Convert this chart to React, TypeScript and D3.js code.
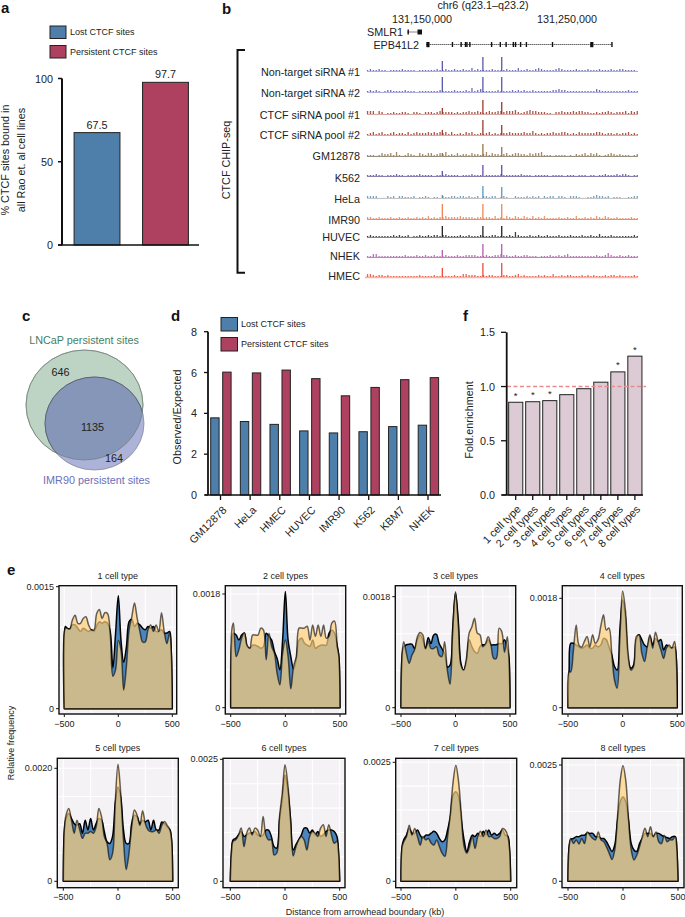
import React from "react";
import * as d3 from "d3";

const FONT = "'Liberation Sans', Arial, sans-serif";
const INK = "#222";
const BLUE = "#4e7fab";
const RED = "#ae4060";

// ---------- panel a ----------
const legendLabels = ["Lost CTCF sites", "Persistent CTCF sites"];
const aValues = [67.5, 97.7];

// ---------- panel b ----------
const trackNames = ["Non-target siRNA #1", "Non-target siRNA #2", "CTCF siRNA pool #1", "CTCF siRNA pool #2", "GM12878", "K562", "HeLa", "IMR90", "HUVEC", "NHEK", "HMEC"];
const trackColors = ["#4a4aa8", "#4a4aa8", "#96281b", "#96281b", "#8f6b3a", "#5a3f9e", "#4a90b8", "#ee7b4a", "#111111", "#b04fa8", "#e8402a"];
const trackBaseColors = ["#a6a6d8", "#a6a6d8", "#d0a098", "#d0a098", "#8c8270", "#7a72a8", "#bdbdbd", "#9a9a9a", "#777777", "#9a8a9a", "#f5b5a5"];
const peakKb = [131164, 131192, 131205];
const trackPeaks = [
  [10, 14, 14], [15, 15, 15], [6, 14, 12], [5, 15, 10], [3, 12, 9], [5, 11, 11], [3, 12, 11], [15, 15, 15], [11, 11, 11], [7, 13, 13], [9, 14, 14],
];
const trackBins = [
  [1,2,1,1,2,1,1,0,1,1,1,1,2,1,1,1,1,0,1,1,1,1,1,1,2,1,1,2,1,1,2,1,1,2,1,1,3,1,2,1,1,1,1,2,1,1,1,1,2,1,1,1,3,1,1,2,1,1,2,3,2,1,1,1,1,2,3,2,1,1,1,1,2,1,1,1,2,1,1,1,2,1,1,1,2,1,1,2,2,1,1,1,1,0],
  [1,2,1,2,1,0,1,2,2,1,1,1,1,2,1,1,1,0,1,1,1,1,1,1,1,2,1,1,1,1,2,1,1,1,2,1,4,1,2,3,1,1,1,1,1,2,1,1,1,1,2,1,2,1,2,1,1,2,1,1,1,1,1,1,2,2,3,2,2,1,1,1,1,1,1,1,1,1,1,3,2,1,1,1,1,1,1,1,1,1,2,1,1,1],
  [3,3,3,0,3,2,0,1,1,2,1,1,2,2,1,0,2,2,1,0,2,2,2,1,2,3,2,2,2,2,1,2,1,2,2,3,2,2,3,2,1,2,3,2,2,3,3,2,3,3,3,4,2,1,2,3,4,3,3,2,2,2,1,1,0,2,2,3,2,2,2,3,2,3,3,2,2,1,1,2,1,2,2,3,2,1,2,2,2,3,1,3,2,3],
  [1,2,3,1,2,3,1,1,2,3,1,2,2,1,3,1,2,3,2,2,2,3,2,3,2,3,2,3,1,3,1,1,2,1,3,2,3,1,1,2,1,2,3,1,2,1,2,2,2,3,2,2,2,2,3,2,2,4,2,1,2,1,2,2,3,2,2,3,3,2,1,2,1,3,2,2,2,2,2,3,3,2,1,2,2,1,2,1,2,2,3,1,2,1],
  [1,1,1,0,1,3,2,2,3,1,4,1,0,1,3,2,1,0,3,2,1,3,3,1,2,3,2,4,1,2,1,3,1,2,2,1,3,2,2,1,2,4,1,3,2,2,1,2,3,1,2,3,3,2,2,1,3,2,3,3,4,1,1,1,0,1,1,1,1,0,1,0,2,1,2,3,1,3,2,3,1,0,1,2,3,2,1,2,1,1,1,0,1,2],
  [1,1,1,2,1,1,0,1,1,1,2,1,1,0,1,1,1,1,2,1,1,1,1,0,1,1,1,2,1,1,1,1,0,1,1,1,2,1,1,1,0,1,1,1,1,1,2,1,1,1,1,1,1,2,1,1,1,0,1,1,1,1,1,0,1,1,1,1,0,1,1,1,0,1,1,1,0,1,1,0,1,1,2,1,1,1,2,1,2,2,1,0,1,1],
  [2,2,2,2,0,0,0,2,1,2,0,2,2,1,1,1,2,0,1,1,2,1,0,1,1,0,2,1,1,2,2,1,2,2,1,2,1,1,2,0,2,2,1,2,2,0,1,2,1,0,0,2,1,1,1,2,1,2,1,2,0,2,1,2,2,0,2,2,1,0,2,2,2,1,0,0,1,1,2,3,2,2,1,2,0,1,1,1,0,0,1,1,2,2],
  [2,2,1,1,2,1,1,1,2,1,1,2,1,1,2,1,1,2,1,2,1,3,1,2,1,2,2,3,2,2,2,2,3,2,2,2,2,1,2,2,1,2,2,1,3,1,2,1,3,2,1,3,2,1,3,2,1,3,1,2,1,3,1,1,1,1,2,1,1,2,1,1,3,1,1,2,1,2,1,3,2,1,3,2,1,1,2,1,1,1,1,2,1,1],
  [1,2,1,1,1,1,1,1,1,2,1,2,1,1,2,0,1,1,2,1,1,2,1,2,2,1,2,2,1,1,1,1,2,1,1,2,1,1,1,2,1,1,1,2,2,1,1,1,1,2,1,5,2,1,1,1,2,1,1,2,1,1,2,1,1,1,2,1,1,1,2,1,1,1,2,1,1,2,1,1,3,1,1,1,2,1,1,1,1,1,1,1,2,1],
  [1,1,3,3,1,1,1,1,1,1,1,1,1,2,1,1,1,2,1,1,2,1,1,2,1,1,1,2,1,1,1,2,1,1,2,2,2,2,1,1,1,2,1,1,2,2,3,2,2,1,1,2,1,1,2,2,1,1,1,0,1,1,1,2,1,1,2,1,2,3,1,1,1,1,1,1,1,1,1,2,1,1,2,4,2,1,1,2,1,1,2,1,1,1],
  [3,3,2,1,2,2,1,2,1,1,1,1,1,1,1,1,1,1,2,1,1,1,1,2,1,1,1,1,1,1,2,1,1,3,3,2,2,2,1,1,2,1,2,2,1,1,1,2,2,1,1,2,3,1,2,1,1,1,1,2,1,2,1,1,3,1,1,2,1,2,2,1,1,1,2,1,2,1,2,1,1,1,2,1,2,2,1,2,1,1,1,1,2,1],
];
const smlr1Span = [131140, 131150];
const epb41l2Span = [131153, 131281];
const epb41l2Exons = [131171, 131177, 131180, 131181, 131183, 131198, 131204, 131208, 131213, 131214.5, 131218, 131222, 131240, 131281];
const epb41l2WideExons = [131153, 131266];

// ---------- panel c ----------
const vennCounts = [646, 1135, 164];

// ---------- panel d ----------
const dCats = ["GM12878", "HeLa", "HMEC", "HUVEC", "IMR90", "K562", "KBM7", "NHEK"];
const dLost = [3.78, 3.6, 3.46, 3.14, 3.04, 3.1, 3.35, 3.42];
const dPersistent = [6.02, 5.98, 6.12, 5.7, 4.86, 5.27, 5.65, 5.75];

// ---------- panel f ----------
const fCats = ["1 cell type", "2 cell types", "3 cell types", "4 cell types", "5 cell types", "6 cell types", "7 cell types", "8 cell types"];
const fValues = [0.855, 0.86, 0.87, 0.925, 0.98, 1.04, 1.135, 1.28];
const fStars = [true, true, true, false, false, false, true, true];

// ---------- panel e (relative frequency x 1e5) ----------
const eKb = [-500,-490,-475,-450,-425,-400,-375,-350,-325,-300,-275,-250,-225,-200,-175,-150,-125,-100,-75,-50,-25,0,25,50,75,100,125,150,175,200,225,250,275,300,325,350,375,400,425,450,475,490,500];
const eTitles = ["1 cell type", "2 cell types", "3 cell types", "4 cell types", "5 cell types", "6 cell types", "7 cell types", "8 cell types"];
const eTop = [0.0015, 0.0018, 0.0018, 0.0018, 0.002, 0.0025, 0.0025, 0.0025];
const eTopLabel = ["0.0015", "0.0018", "0.0018", "0.0018", "0.0020", "0.0025", "0.0025", "0.0025"];
const eGridStep = [0.0005, 0.0006, 0.0006, 0.0006, 0.0005, 0.0005, 0.0005, 0.0005];
const eLost = [
  [0,101,99,98,103,103,99,95,99,97,95,97,95,102,107,105,107,105,95,50,93,139,84,57,76,107,110,101,105,103,99,97,101,99,101,95,95,97,93,93,95,72,0],
  [0,102,118,115,107,115,118,97,94,99,99,97,94,97,118,113,107,89,78,60,107,184,107,81,61,76,107,110,102,99,97,107,94,97,99,99,99,118,123,118,97,81,0],
  [0,83,99,102,103,103,96,110,118,110,95,114,104,118,119,104,96,88,66,69,131,186,142,72,61,75,110,99,91,88,99,102,102,110,102,102,102,104,104,110,96,83,0],
  [0,62,106,106,103,100,98,100,103,98,98,103,100,103,114,112,100,87,68,62,128,177,150,81,65,70,112,120,112,103,100,117,103,114,109,112,95,103,100,98,100,84,0],
  [0,91,111,120,111,102,99,102,85,108,91,111,91,102,111,108,88,70,67,79,138,167,149,91,67,67,102,117,114,102,108,105,108,91,108,91,91,105,102,96,91,73,0],
  [0,58,85,88,95,102,92,95,99,99,102,95,92,95,105,105,92,71,68,126,167,218,188,129,64,75,85,95,109,109,99,105,95,102,92,95,102,105,105,102,92,58,0],
  [0,73,87,97,111,101,101,108,97,90,97,97,101,105,101,90,83,87,108,136,181,188,178,129,87,62,83,97,94,101,94,105,97,108,97,101,97,101,108,97,94,66,0],
  [0,74,90,92,96,96,99,99,104,103,103,96,96,92,92,85,74,64,78,131,171,181,171,131,81,67,64,81,92,103,103,103,96,103,103,99,96,94,92,96,96,67,0],
];
const ePersistent = [
  [0,99,99,98,109,115,105,105,111,113,103,97,97,117,122,111,118,117,93,40,48,84,72,23,52,97,113,130,111,95,82,82,97,103,95,103,95,118,95,80,93,72,0],
  [0,123,134,81,92,110,119,99,94,115,115,115,126,123,76,118,97,86,54,36,86,107,81,30,65,81,126,126,126,129,107,131,113,131,113,131,110,113,134,137,97,81,0],
  [0,88,107,88,72,85,94,115,122,118,96,107,96,96,99,85,83,107,61,38,126,188,137,69,61,80,121,131,145,121,118,99,104,115,102,80,80,129,123,90,115,83,0],
  [0,59,59,95,136,103,100,109,117,100,120,106,112,134,153,128,131,90,46,32,117,192,161,90,62,68,117,120,90,76,100,120,98,124,109,95,81,98,103,98,109,84,0],
  [0,94,117,129,108,85,108,91,76,85,85,88,85,96,129,114,79,67,38,49,141,207,155,73,21,49,96,126,117,99,125,102,91,88,88,91,85,99,106,99,91,73,0],
  [0,58,82,85,95,109,71,99,109,95,109,105,92,133,95,85,85,54,58,133,181,239,201,129,52,71,85,92,85,64,92,102,99,92,109,116,92,116,95,78,82,58,0],
  [0,73,83,94,118,97,111,94,76,94,87,90,80,76,87,73,59,52,94,143,209,244,209,139,73,59,73,94,69,94,105,94,108,94,94,90,90,94,111,108,94,66,0],
  [0,74,92,81,89,80,92,81,106,99,92,89,106,89,85,74,60,47,67,139,217,249,217,135,67,46,56,74,96,114,96,117,96,106,85,81,99,85,89,89,96,67,0],
];

// ---------- layout (pixels) ----------
const ePanels = [
  { l: 59, r: 176.7, t: 585.7, b: 714, xm: 64.3, xp: 172.3, y0: 708.7, yt: 586.7 },
  { l: 225.3, r: 345.7, t: 585.7, b: 714, xm: 230.7, xp: 340, y0: 707.7, yt: 594 },
  { l: 395.3, r: 515.7, t: 585.7, b: 714, xm: 401, xp: 510, y0: 707.7, yt: 596.7 },
  { l: 562.3, r: 682.3, t: 585.7, b: 714, xm: 568, xp: 677.3, y0: 707.7, yt: 598.3 },
  { l: 57.3, r: 178.3, t: 758.3, b: 887.7, xm: 63.3, xp: 172.7, y0: 881.3, yt: 768.3 },
  { l: 223, r: 345, t: 758.3, b: 887.7, xm: 230.3, xp: 339.7, y0: 881.3, yt: 759.3 },
  { l: 395.7, r: 516.7, t: 758.3, b: 887.7, xm: 401, xp: 510.7, y0: 881.3, yt: 762.3 },
  { l: 562, r: 684, t: 758.3, b: 887.7, xm: 568, xp: 678, y0: 881.3, yt: 765 },
];
const trackBaseY = [71, 92, 114, 135, 156, 176, 198, 219, 237, 257, 277];
const trackLabelY = [72, 93, 115, 135, 156, 178, 199, 220, 237, 256, 276];
const panelLetters = ["a", "b", "c", "d", "e", "f"];
const panelLetterPos = [[1, 13], [222, 14], [22, 321], [171, 321], [7, 575], [463, 321]];

const T = (p: any) => <text fontFamily={FONT} fill={INK} fontSize={10.8} dominantBaseline="central" {...p} />;

function Legend({ x, y1, y2, w, h, tx }: any) {
  return (
    <g>
      <rect x={x} y={y1} width={w} height={h} fill={BLUE} stroke={INK} strokeWidth={1} />
      <rect x={x} y={y2} width={w} height={h} fill={RED} stroke={INK} strokeWidth={1} />
      <T x={tx} y={y1 + h / 2} fontSize={9}>{legendLabels[0]}</T>
      <T x={tx} y={y2 + h / 2} fontSize={9}>{legendLabels[1]}</T>
    </g>
  );
}

function PanelA() {
  const y = d3.scaleLinear().domain([0, 100]).range([245, 78.5]);
  const x = d3.scaleBand<number>().domain([0, 1]).range([64.5, 198]).paddingInner(0.33).paddingOuter(0.14);
  return (
    <g>
      <Legend x={50} y1={26} y2={45.5} w={16} h={12.5} tx={70} />
      {aValues.map((v, i) => (
        <g key={i}>
          <rect x={x(i)} y={y(v)} width={x.bandwidth()} height={y(0) - y(v)} fill={i ? RED : BLUE} stroke={INK} strokeWidth={1} />
          <T x={x(i)! + x.bandwidth() / 2} y={y(v) - 8} textAnchor="middle">{v.toFixed(1)}</T>
        </g>
      ))}
      <line x1={62} x2={62} y1={y(100)} y2={y(0)} stroke="#111" strokeWidth={2} />
      <line x1={58} x2={199} y1={y(0)} y2={y(0)} stroke="#111" strokeWidth={1.6} />
      {[0, 50, 100].map((t) => (
        <g key={t}>
          <line x1={58} x2={62} y1={y(t)} y2={y(t)} stroke="#111" strokeWidth={1.5} />
          <T x={53} y={y(t)} textAnchor="end">{t}</T>
        </g>
      ))}
      <T transform="translate(5,160) rotate(-90)" textAnchor="middle">% CTCF sites bound in</T>
      <T transform="translate(21,160) rotate(-90)" textAnchor="middle">all Rao et. al cell lines</T>
    </g>
  );
}

function PanelB() {
  const g = d3.scaleLinear().domain([131150, 131250]).range([422, 567]);
  const binX = (i: number) => g(131112 + i * 2);
  return (
    <g>
      <T x={483} y={5} textAnchor="middle">chr6 (q23.1–q23.2)</T>
      <T x={g(131150)} y={19} textAnchor="middle">131,150,000</T>
      <T x={g(131250)} y={19} textAnchor="middle">131,250,000</T>
      <T x={403} y={32} textAnchor="end">SMLR1</T>
      <T x={419} y={45} textAnchor="end">EPB41L2</T>
      <line x1={g(smlr1Span[0])} x2={g(smlr1Span[1])} y1={32} y2={32} stroke="#111" strokeDasharray="1 1" />
      <rect x={g(smlr1Span[0])} y={29.5} width={1.4} height={5} fill="#111" />
      <rect x={g(smlr1Span[1]) - 4.5} y={29.5} width={4.5} height={5} fill="#111" />
      <line x1={g(epb41l2Span[0])} x2={g(epb41l2Span[1])} y1={44.5} y2={44.5} stroke="#111" strokeDasharray="1 1" />
      {epb41l2Exons.map((e, i) => (
        <rect key={i} x={g(e) - 0.7} y={42} width={1.4} height={5} fill="#111" />
      ))}
      {epb41l2WideExons.map((e) => (
        <rect key={e} x={g(e)} y={42} width={3.2} height={5.2} fill="#111" />
      ))}
      <path d="M245,50 H237.5 V272.7 H245" fill="none" stroke="#111" strokeWidth={2} />
      <T transform="translate(226,160) rotate(-90)" textAnchor="middle">CTCF CHIP-seq</T>
      {trackNames.map((n, k) => (
        <g key={n}>
          <T x={360} y={trackLabelY[k]} textAnchor="end">{n}</T>
          <line x1={k === 10 ? 365 : 367} x2={638} y1={trackBaseY[k] + 0.4} y2={trackBaseY[k] + 0.4} stroke={trackBaseColors[k]} strokeWidth={k === 10 ? 1.8 : 1} />
          {trackBins[k].map((h, i) => (
            <rect key={i} x={binX(i)} y={trackBaseY[k] - h} width={1.3} height={h} fill={trackColors[k]} opacity={0.8} />
          ))}
          {peakKb.map((p, i) => (
            <rect key={p} x={g(p) - 0.6} y={trackBaseY[k] - trackPeaks[k][i]} width={1.2} height={trackPeaks[k][i]} fill={trackColors[k]} />
          ))}
        </g>
      ))}
    </g>
  );
}

function PanelC() {
  return (
    <g>
      <defs>
        <clipPath id="lncap"><ellipse cx={84.5} cy={405} rx={58.5} ry={55} /></clipPath>
      </defs>
      <ellipse cx={84.5} cy={405} rx={58.5} ry={55} fill="#bdd3c3" stroke="#8a9a90" strokeWidth={0.8} />
      <ellipse cx={94.5} cy={423.5} rx={49.5} ry={46.5} fill="#acb2d8" stroke="#8a8a9a" strokeWidth={0.8} />
      <ellipse cx={94.5} cy={423.5} rx={49.5} ry={46.5} fill="#8596b8" stroke="#556" strokeWidth={0.8} clipPath="url(#lncap)" />
      <ellipse cx={84.5} cy={405} rx={58.5} ry={55} fill="none" stroke="#6c7a74" strokeWidth={0.6} />
      <T x={84} y={340} textAnchor="middle" fill="#3f7f66">LNCaP persistent sites</T>
      <T x={96.5} y={480} textAnchor="middle" fill="#6a70b8">IMR90 persistent sites</T>
      <T x={60.5} y={372} textAnchor="middle">{vennCounts[0]}</T>
      <T x={92.5} y={426.5} textAnchor="middle">{vennCounts[1]}</T>
      <T x={114} y={458} textAnchor="middle">{vennCounts[2]}</T>
    </g>
  );
}

function PanelD() {
  const y = d3.scaleLinear().domain([0, 8]).range([495, 331.7]);
  const x = d3.scalePoint<string>().domain(dCats).range([220.5, 428]);
  return (
    <g>
      <Legend x={221} y1={317.5} y2={337.5} w={16.5} h={13.5} tx={241} />
      {dCats.map((c, i) => (
        <g key={c}>
          <rect x={x(c)! - 9.8} y={y(dLost[i])} width={8.4} height={y(0) - y(dLost[i])} fill={BLUE} stroke={INK} strokeWidth={1} />
          <rect x={x(c)! + 2.2} y={y(dPersistent[i])} width={8.4} height={y(0) - y(dPersistent[i])} fill={RED} stroke={INK} strokeWidth={1} />
          <line x1={x(c)} x2={x(c)} y1={495} y2={500} stroke="#111" strokeWidth={1.3} />
          <T transform={`translate(${x(c)! + 4},508) rotate(-45)`} textAnchor="end">{c}</T>
        </g>
      ))}
      <line x1={208} x2={208} y1={y(8)} y2={y(0)} stroke="#111" strokeWidth={1.8} />
      <line x1={205} x2={441} y1={y(0)} y2={y(0)} stroke="#111" strokeWidth={1.5} />
      {[0, 2, 4, 6, 8].map((t) => (
        <g key={t}>
          <line x1={204} x2={208} y1={y(t)} y2={y(t)} stroke="#111" strokeWidth={1.3} />
          <T x={197} y={y(t)} textAnchor="end">{t}</T>
        </g>
      ))}
      <T transform="translate(177,417) rotate(-90)" textAnchor="middle">Observed/Expected</T>
    </g>
  );
}

function PanelF() {
  const y = d3.scaleLinear().domain([0, 1.5]).range([495, 332.3]);
  const x = d3.scaleBand<string>().domain(fCats).range([507.8, 642.8]).paddingInner(0.17).paddingOuter(0.05);
  return (
    <g>
      {fCats.map((c, i) => {
        const cx = x(c)! + x.bandwidth() / 2;
        return (
          <g key={c}>
            <rect x={x(c)} y={y(fValues[i])} width={x.bandwidth()} height={y(0) - y(fValues[i])} fill="#dccbd4" stroke={INK} strokeWidth={1} />
            <line x1={cx} x2={cx} y1={495} y2={500} stroke="#111" strokeWidth={1.3} />
            <T transform={`translate(${cx + 3},507) rotate(-45)`} textAnchor="end">{c}</T>
            {fStars[i] && <T x={cx} y={y(fValues[i]) - 7} textAnchor="middle" fontSize={9.5}>*</T>}
          </g>
        );
      })}
      <line x1={507} x2={646} y1={y(1)} y2={y(1)} stroke="#e98b8b" strokeWidth={1.4} strokeDasharray="4 2.5" />
      <line x1={506.7} x2={506.7} y1={y(1.5)} y2={y(0)} stroke="#111" strokeWidth={1.8} />
      <line x1={502} x2={643} y1={y(0)} y2={y(0)} stroke="#111" strokeWidth={1.5} />
      {[0, 0.5, 1, 1.5].map((t) => (
        <g key={t}>
          <line x1={501} x2={506} y1={y(t)} y2={y(t)} stroke="#111" strokeWidth={1.3} />
          <T x={495} y={y(t)} textAnchor="end">{t.toFixed(1)}</T>
        </g>
      ))}
      <T transform="translate(469,420) rotate(-90)" textAnchor="middle">Fold.enrichment</T>
    </g>
  );
}

function Density({ idx }: { idx: number }) {
  const p = ePanels[idx];
  const top = eTop[idx];
  const x = d3.scaleLinear().domain([-500, 500]).range([p.xm, p.xp]);
  const y = d3.scaleLinear().domain([0, top]).range([p.y0, p.yt]);
  const area = (vals: number[]) =>
    d3.area<number>()
      .x((_, i) => x(eKb[i]))
      .y0(y(0))
      .y1((v) => y(v * 1e-5))
      .curve(d3.curveCatmullRom.alpha(0.5))(vals)!;
  const yGrid = d3.range(0, ((p.y0 - p.t) / (p.y0 - p.yt)) * top, eGridStep[idx]);
  return (
    <g>
      <text x={(p.l + p.r) / 2} y={p.t - 10} fontFamily={FONT} fontSize={9} fill={INK} textAnchor="middle" dominantBaseline="central">{eTitles[idx]}</text>
      <rect x={p.l} y={p.t} width={p.r - p.l} height={p.b - p.t} fill="#f4f2f5" />
      {[-500, -250, 0, 250, 500].map((t) => (
        <line key={t} x1={x(t)} x2={x(t)} y1={p.t} y2={p.b} stroke="#fff" strokeWidth={1.1} />
      ))}
      {yGrid.map((t) => (
        <line key={t} x1={p.l} x2={p.r} y1={y(t)} y2={y(t)} stroke="#fff" strokeWidth={1.1} />
      ))}
      <path d={area(eLost[idx])} fill="#4a86bd" stroke="#000" strokeWidth={1.5} strokeLinejoin="round" />
      <path d={area(ePersistent[idx])} fill="rgb(255,207,119)" fillOpacity={0.7} stroke="#000" strokeOpacity={0.6} strokeWidth={1.5} strokeLinejoin="round" />
      <rect x={p.l} y={p.t} width={p.r - p.l} height={p.b - p.t} fill="none" stroke="#111" strokeWidth={1.4} />
      {[-500, 0, 500].map((t) => (
        <g key={t}>
          <line x1={x(t)} x2={x(t)} y1={p.b} y2={p.b + 3} stroke="#111" strokeWidth={1} />
          <text x={x(t)} y={p.b + 9.5} fontFamily={FONT} fontSize={9} fill={INK} textAnchor="middle" dominantBaseline="central">{t < 0 ? "−500" : t}</text>
        </g>
      ))}
      <line x1={p.l - 3} x2={p.l} y1={y(0)} y2={y(0)} stroke="#111" strokeWidth={1} />
      <line x1={p.l - 3} x2={p.l} y1={y(top)} y2={y(top)} stroke="#111" strokeWidth={1} />
      <text x={p.l - 5} y={y(0)} fontFamily={FONT} fontSize={9} fill={INK} textAnchor="end" dominantBaseline="central">0</text>
      <text x={p.l - 5} y={y(top)} fontFamily={FONT} fontSize={9} fill={INK} textAnchor="end" dominantBaseline="central">{eTopLabel[idx]}</text>
    </g>
  );
}

export default function App() {
  return (
    <svg width={685} height={917} viewBox="0 0 685 917" style={{ position: "absolute", left: 0, top: 0, background: "#fff" }}>
      {panelLetters.map((s, i) => (
        <text key={s} x={panelLetterPos[i][0]} y={panelLetterPos[i][1]} fontFamily={FONT} fontWeight="bold" fontSize={15} fill="#111">{s}</text>
      ))}
      <PanelA />
      <PanelB />
      <PanelC />
      <PanelD />
      <PanelF />
      {ePanels.map((_, i) => <Density key={i} idx={i} />)}
      <text transform="translate(11,743) rotate(-90)" fontFamily={FONT} fontSize={9} fill={INK} textAnchor="middle" dominantBaseline="central">Relative frequency</text>
      <text x={365} y={911.5} fontFamily={FONT} fontSize={9} fill={INK} textAnchor="middle" dominantBaseline="central">Distance from arrowhead boundary (kb)</text>
    </svg>
  );
}
